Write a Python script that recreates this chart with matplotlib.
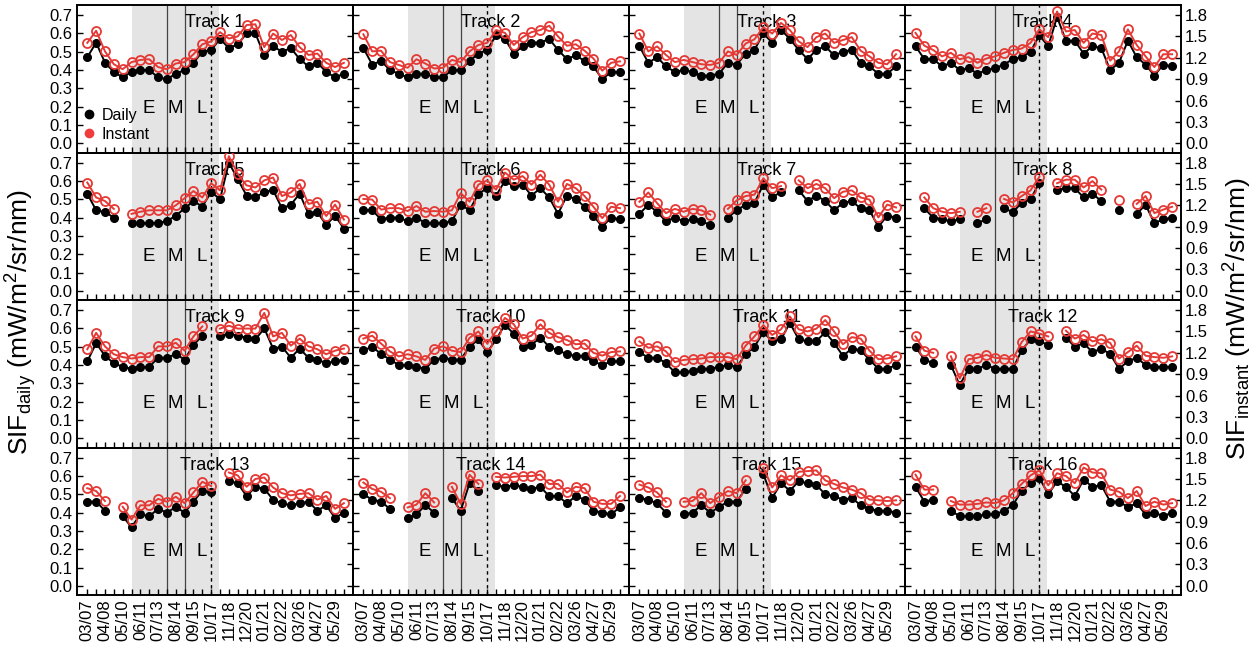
import numpy as np
import matplotlib
matplotlib.use("Agg")
from matplotlib import pyplot as plt
from matplotlib.lines import Line2D

nan = np.nan

# 16-day revisit dates, labels shown for every other one
dates = ["03/07", "03/23", "04/08", "04/24", "05/10", "05/26", "06/11", "06/27",
         "07/13", "07/29", "08/14", "08/30", "09/15", "10/01", "10/17", "11/02",
         "11/18", "12/04", "12/20", "01/05", "01/21", "02/06", "02/22", "03/10",
         "03/26", "04/11", "04/27", "05/13", "05/29", "06/14"]

track_names = ["Track %d" % i for i in range(1, 17)]

# SIF daily (left axis) and SIF instant (right axis)
daily_t1 = [0.47, 0.55, 0.44, 0.39, 0.36, 0.39, 0.40, 0.40, 0.36, 0.35, 0.38, 0.40, 0.44, 0.50, 0.51,
            0.57, 0.52, 0.54, 0.60, 0.60, 0.48, 0.53, 0.50, 0.52, 0.46, 0.42, 0.44, 0.39, 0.36, 0.38]
instant_t1 = [1.41, 1.58, 1.29, 1.11, 1.04, 1.14, 1.17, 1.18, 1.07, 1.04, 1.12, 1.14, 1.25, 1.39, 1.43,
              1.56, 1.47, 1.50, 1.66, 1.67, 1.35, 1.54, 1.45, 1.52, 1.35, 1.24, 1.26, 1.13, 1.07, 1.13]
daily_t2 = [0.52, 0.43, 0.45, 0.40, 0.38, 0.36, 0.38, 0.38, 0.36, 0.36, 0.40, 0.40, 0.45, 0.49, 0.51,
            0.59, 0.57, 0.49, 0.53, 0.55, 0.55, 0.57, 0.51, 0.46, 0.48, 0.45, 0.42, 0.35, 0.39, 0.39]
instant_t2 = [1.53, 1.29, 1.30, 1.14, 1.10, 1.06, 1.18, 1.12, 1.05, 1.06, 1.17, 1.14, 1.29, 1.38, 1.41,
              1.59, 1.55, 1.38, 1.49, 1.56, 1.59, 1.65, 1.50, 1.37, 1.39, 1.30, 1.19, 1.02, 1.13, 1.15]
daily_t3 = [0.53, 0.44, 0.47, 0.42, 0.39, 0.40, 0.39, 0.37, 0.37, 0.38, 0.44, 0.43, 0.49, 0.51, 0.60,
            0.55, 0.62, 0.57, 0.51, 0.46, 0.51, 0.53, 0.48, 0.50, 0.51, 0.44, 0.42, 0.38, 0.38, 0.42]
instant_t3 = [1.54, 1.29, 1.36, 1.24, 1.14, 1.17, 1.14, 1.11, 1.10, 1.13, 1.29, 1.24, 1.40, 1.46, 1.63,
              1.54, 1.69, 1.59, 1.43, 1.35, 1.49, 1.54, 1.41, 1.45, 1.49, 1.30, 1.22, 1.13, 1.11, 1.25]
daily_t4 = [0.53, 0.46, 0.46, 0.42, 0.44, 0.40, 0.41, 0.38, 0.40, 0.41, 0.43, 0.46, 0.47, 0.50, 0.59,
            0.53, 0.69, 0.56, 0.56, 0.49, 0.53, 0.52, 0.40, 0.44, 0.56, 0.47, 0.43, 0.37, 0.43, 0.42]
instant_t4 = [1.55, 1.37, 1.31, 1.22, 1.27, 1.18, 1.21, 1.13, 1.19, 1.22, 1.27, 1.31, 1.33, 1.41, 1.60,
              1.49, 1.85, 1.57, 1.59, 1.41, 1.54, 1.52, 1.16, 1.29, 1.60, 1.38, 1.22, 1.07, 1.25, 1.25]
daily_t5 = [0.53, 0.44, 0.43, 0.40, nan, 0.37, 0.37, 0.37, 0.37, 0.38, 0.41, 0.45, 0.49, 0.46, 0.54,
            0.50, 0.70, 0.61, 0.52, 0.51, 0.54, 0.55, 0.45, 0.47, 0.53, 0.42, 0.43, 0.36, 0.41, 0.34]
instant_t5 = [1.52, 1.31, 1.26, 1.15, nan, 1.08, 1.11, 1.13, 1.13, 1.13, 1.20, 1.30, 1.40, 1.31, 1.51,
              1.41, 1.89, 1.64, 1.48, 1.45, 1.55, 1.59, 1.33, 1.38, 1.50, 1.22, 1.25, 1.05, 1.21, 1.00]
daily_t6 = [0.44, 0.44, 0.39, 0.40, 0.40, 0.38, 0.40, 0.37, 0.37, 0.37, 0.38, 0.47, 0.44, 0.53, 0.56,
            0.52, 0.60, 0.57, 0.58, 0.52, 0.56, 0.51, 0.42, 0.52, 0.50, 0.46, 0.41, 0.35, 0.40, 0.39]
instant_t6 = [1.29, 1.28, 1.14, 1.16, 1.16, 1.12, 1.19, 1.11, 1.12, 1.11, 1.13, 1.37, 1.25, 1.49, 1.55,
              1.42, 1.66, 1.56, 1.61, 1.49, 1.63, 1.49, 1.25, 1.50, 1.44, 1.33, 1.18, 1.02, 1.18, 1.16]
daily_t7 = [0.42, 0.47, 0.43, 0.38, 0.40, 0.38, 0.39, 0.38, 0.36, nan, 0.40, 0.44, 0.47, 0.48, 0.58,
            0.51, 0.54, nan, 0.55, 0.49, 0.52, 0.49, 0.44, 0.48, 0.49, 0.45, 0.44, 0.35, 0.41, 0.40]
instant_t7 = [1.25, 1.38, 1.23, 1.09, 1.15, 1.11, 1.15, 1.13, 1.07, nan, 1.15, 1.27, 1.33, 1.35, 1.58,
              1.44, 1.47, nan, 1.55, 1.44, 1.50, 1.44, 1.30, 1.39, 1.41, 1.31, 1.28, 1.03, 1.21, 1.17]
daily_t8 = [nan, 0.45, 0.40, 0.39, 0.38, 0.39, nan, 0.37, 0.39, nan, 0.45, 0.43, 0.48, 0.50, 0.59,
            nan, 0.55, 0.56, 0.56, 0.51, 0.53, 0.49, nan, 0.44, nan, 0.42, 0.47, 0.37, 0.39, 0.40]
instant_t8 = [nan, 1.31, 1.16, 1.11, 1.09, 1.11, nan, 1.11, 1.16, nan, 1.29, 1.24, 1.33, 1.41, 1.60,
              nan, 1.51, 1.56, 1.56, 1.45, 1.54, 1.42, nan, 1.28, nan, 1.22, 1.33, 1.09, 1.14, 1.18]
daily_t9 = [0.42, 0.52, 0.45, 0.41, 0.39, 0.38, 0.39, 0.39, 0.44, 0.44, 0.46, 0.43, 0.51, 0.56, nan,
            0.56, 0.57, 0.56, 0.55, 0.54, 0.60, 0.49, 0.50, 0.44, 0.49, 0.44, 0.43, 0.41, 0.42, 0.43]
instant_t9 = [1.25, 1.48, 1.29, 1.18, 1.14, 1.12, 1.14, 1.14, 1.29, 1.29, 1.34, 1.23, 1.43, 1.57, nan,
              1.54, 1.58, 1.54, 1.54, 1.54, 1.76, 1.43, 1.48, 1.30, 1.40, 1.29, 1.25, 1.18, 1.23, 1.26]
daily_t10 = [0.48, 0.50, 0.46, 0.43, 0.40, 0.40, 0.39, 0.38, 0.43, 0.44, 0.43, 0.43, 0.50, 0.54, 0.47,
             0.54, 0.62, 0.57, 0.50, 0.51, 0.55, 0.50, 0.48, 0.46, 0.45, 0.45, 0.42, 0.40, 0.42, 0.42]
instant_t10 = [1.40, 1.44, 1.33, 1.22, 1.15, 1.18, 1.15, 1.10, 1.26, 1.29, 1.23, 1.21, 1.41, 1.50, 1.33,
               1.50, 1.69, 1.60, 1.40, 1.44, 1.60, 1.48, 1.42, 1.38, 1.32, 1.33, 1.20, 1.16, 1.21, 1.22]
daily_t11 = [0.47, 0.44, 0.44, 0.41, 0.36, 0.36, 0.37, 0.38, 0.38, 0.39, 0.40, 0.39, 0.46, 0.50, 0.58,
             0.53, 0.54, 0.63, 0.54, 0.53, 0.53, 0.58, 0.52, 0.45, 0.49, 0.48, 0.43, 0.38, 0.38, 0.40]
instant_t11 = [1.36, 1.27, 1.29, 1.22, 1.07, 1.10, 1.11, 1.12, 1.14, 1.14, 1.14, 1.11, 1.30, 1.43, 1.59,
               1.45, 1.53, 1.71, 1.53, 1.50, 1.54, 1.66, 1.50, 1.32, 1.42, 1.40, 1.23, 1.11, 1.12, 1.15]
daily_t12 = [0.50, 0.43, 0.41, nan, 0.40, 0.29, 0.38, 0.38, 0.40, 0.38, 0.38, 0.38, 0.48, 0.54, 0.53,
             0.51, nan, 0.55, 0.50, 0.52, 0.47, 0.49, 0.46, 0.38, 0.42, 0.44, 0.40, 0.39, 0.39, 0.39]
instant_t12 = [1.43, 1.23, 1.20, nan, 1.15, 0.84, 1.11, 1.13, 1.17, 1.13, 1.12, 1.11, 1.35, 1.50, 1.47,
               1.43, nan, 1.51, 1.40, 1.45, 1.36, 1.39, 1.34, 1.12, 1.21, 1.30, 1.16, 1.14, 1.13, 1.15]
daily_t13 = [0.46, 0.46, 0.41, nan, 0.38, 0.32, 0.39, 0.38, 0.42, 0.40, 0.43, 0.40, 0.46, 0.52, 0.51,
             nan, 0.57, 0.56, 0.49, 0.54, 0.53, 0.47, 0.45, 0.44, 0.45, 0.46, 0.41, 0.44, 0.37, 0.40]
instant_t13 = [1.37, 1.33, 1.19, nan, 1.11, 0.93, 1.13, 1.13, 1.22, 1.18, 1.25, 1.16, 1.31, 1.46, 1.40,
               nan, 1.59, 1.55, 1.39, 1.50, 1.52, 1.38, 1.30, 1.27, 1.29, 1.30, 1.21, 1.26, 1.08, 1.16]
daily_t14 = [0.50, 0.47, 0.46, 0.42, nan, 0.37, 0.39, 0.44, 0.40, nan, 0.48, 0.41, 0.56, 0.52, nan,
             0.55, 0.54, 0.55, 0.54, 0.53, 0.54, 0.49, 0.49, 0.45, 0.49, 0.47, 0.41, 0.40, 0.39, 0.43]
instant_t14 = [1.45, 1.36, 1.32, 1.23, nan, 1.10, 1.14, 1.30, 1.17, nan, 1.39, 1.15, 1.56, 1.43, nan,
               1.53, 1.52, 1.53, 1.54, 1.54, 1.56, 1.43, 1.43, 1.31, 1.39, 1.37, 1.18, 1.15, 1.15, 1.26]
daily_t15 = [0.48, 0.47, 0.45, 0.40, nan, 0.39, 0.40, 0.44, 0.40, 0.43, 0.46, 0.46, 0.53, nan, 0.61,
             0.48, 0.56, 0.52, 0.57, 0.56, 0.55, 0.50, 0.49, 0.47, 0.48, 0.44, 0.42, 0.41, 0.41, 0.40]
instant_t15 = [1.42, 1.38, 1.31, 1.18, nan, 1.18, 1.19, 1.30, 1.16, 1.25, 1.33, 1.30, 1.48, nan, 1.66,
               1.38, 1.55, 1.48, 1.60, 1.61, 1.62, 1.48, 1.43, 1.38, 1.35, 1.30, 1.21, 1.20, 1.19, 1.20]
daily_t16 = [0.54, 0.46, 0.47, nan, 0.41, 0.38, 0.38, 0.38, 0.39, 0.39, 0.41, 0.44, 0.52, 0.56, 0.59,
             0.50, 0.57, 0.54, 0.49, 0.58, 0.54, 0.55, 0.46, 0.46, 0.43, 0.45, 0.39, 0.40, 0.38, 0.40]
instant_t16 = [1.56, 1.35, 1.35, nan, 1.19, 1.14, 1.14, 1.15, 1.17, 1.16, 1.20, 1.30, 1.43, 1.55, 1.62,
               1.41, 1.58, 1.54, 1.44, 1.66, 1.59, 1.58, 1.35, 1.32, 1.23, 1.33, 1.12, 1.18, 1.14, 1.16]

daily_all = [daily_t1, daily_t2, daily_t3, daily_t4, daily_t5, daily_t6, daily_t7, daily_t8,
             daily_t9, daily_t10, daily_t11, daily_t12, daily_t13, daily_t14, daily_t15, daily_t16]
instant_all = [instant_t1, instant_t2, instant_t3, instant_t4, instant_t5, instant_t6, instant_t7,
               instant_t8, instant_t9, instant_t10, instant_t11, instant_t12, instant_t13,
               instant_t14, instant_t15, instant_t16]

# growth period markers (index positions on the date axis)
shade_span = (5.0, 14.9)
stage_lines = [9, 11]
harvest_line = 14
stage_labels = ["E", "M", "L"]
stage_label_x = [6.9, 9.9, 12.9]

RED = "#e53935"

plt.rcParams["font.family"] = ["Liberation Sans", "DejaVu Sans"]
plt.rcParams["mathtext.fontset"] = "custom"
plt.rcParams["mathtext.rm"] = "Liberation Sans"
plt.rcParams["mathtext.it"] = "Liberation Sans:italic"

fig, axs = plt.subplots(4, 4, figsize=(12.57, 6.51), dpi=100, sharex=True, sharey=True)
fig.subplots_adjust(left=0.061, right=0.9395, top=0.9923, bottom=0.086, wspace=0, hspace=0)

x = np.arange(len(dates))
xlabels = [d if i % 2 == 0 else "" for i, d in enumerate(dates)]

for k, ax in enumerate(axs.flat):
    row, col = divmod(k, 4)
    daily = np.array(daily_all[k], dtype=float)
    instant = np.array(instant_all[k], dtype=float)

    ax.axvspan(*shade_span, color="#e4e4e4", lw=0, zorder=0)
    for xl in stage_lines:
        ax.axvline(xl, color="#444444", lw=0.9, zorder=1)
    ax.axvline(harvest_line, color="black", lw=1.0, ls=(0, (2.5, 2.5)), zorder=1)
    for lab, xl in zip(stage_labels, stage_label_x):
        ax.text(xl, 0.19, lab, fontsize=13.5, ha="center", va="center")
    ax.text(0.5, 0.88, track_names[k], transform=ax.transAxes, fontsize=13,
            ha="center", va="center", zorder=5)

    ax.plot(x, daily, color="black", lw=1.4, marker="o", ms=5.5, zorder=3)

    ax2 = ax.twinx()
    ax2.plot(x, instant, color=RED, lw=1.4, marker="o", ms=6.5, mfc="none",
             mec=RED, mew=1.3, zorder=4)
    ax2.set_ylim(-0.129, 1.941)
    ax2.set_yticks(np.arange(0, 1.81, 0.3))
    ax2.yaxis.set_major_formatter(plt.FormatStrFormatter("%.1f"))
    ax2.tick_params(axis="y", direction="in", length=4, width=1, labelsize=12,
                    labelright=(col == 3), pad=3)

    ax.set_xlim(-1.2, 30.0)
    ax.set_ylim(-0.05, 0.755)
    ax.set_yticks(np.arange(0, 0.71, 0.1))
    ax.yaxis.set_major_formatter(plt.FormatStrFormatter("%.1f"))
    ax.set_xticks(x)
    ax.set_xticklabels(xlabels, rotation=90)
    ax.tick_params(direction="in", length=4, width=1, labelsize=12, pad=3)
    for sp in list(ax.spines.values()) + list(ax2.spines.values()):
        sp.set_linewidth(1.2)

    if k == 0:
        handles = [Line2D([], [], ls="none", marker="o", color="black", ms=6),
                   Line2D([], [], ls="none", marker="o", color="#f03c3c", ms=6)]
        ax2.legend(handles, ["Daily", "Instant"], loc="lower left",
                   bbox_to_anchor=(-0.035, -0.025), frameon=False, fontsize=11.5,
                   handlelength=1.0, handletextpad=0.25, labelspacing=0.25)

fig.text(0.017, 0.505, r"SIF$_{\mathrm{daily}}$ (mW/m$^2$/sr/nm)", rotation=90,
         ha="center", va="center", fontsize=19)
fig.text(0.985, 0.51, r"SIF$_{\mathrm{instant}}$ (mW/m$^2$/sr/nm)", rotation=90,
         ha="center", va="center", fontsize=19)

fig.savefig("out.png", dpi=100)
